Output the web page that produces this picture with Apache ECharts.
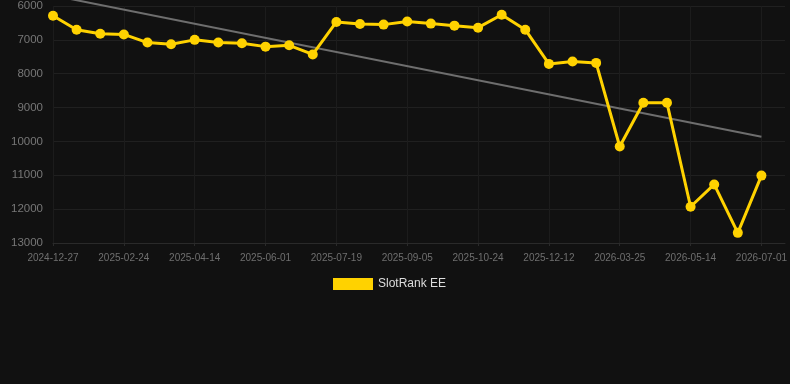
<!DOCTYPE html>
<html>
<head>
<meta charset="utf-8">
<script src="https://cdn.jsdelivr.net/npm/echarts@6/dist/echarts.min.js"></script>
<style>
  html, body { margin: 0; padding: 0; background: #111111; }
  #chart { width: 790px; height: 384px; }
</style>
</head>
<body>
<div id="chart"></div>
<script>
// x categories (last one is an empty slot at the right edge)
const dates = [
  '2024-12-27', '2025-01-16', '2025-02-05', '2025-02-24', '2025-03-12', '2025-03-29',
  '2025-04-14', '2025-04-30', '2025-05-16', '2025-06-01', '2025-06-17', '2025-07-03',
  '2025-07-19', '2025-08-04', '2025-08-20', '2025-09-05', '2025-09-21', '2025-10-08',
  '2025-10-24', '2025-11-09', '2025-11-26', '2025-12-12', '2026-01-15', '2026-02-20',
  '2026-03-25', '2026-04-11', '2026-04-28', '2026-05-14', '2026-05-30', '2026-06-15',
  '2026-07-01', '2026-07-17'
]

// rank values
const rank = [
  6290, 6700, 6820, 6840, 7080, 7130, 7000, 7080, 7100, 7200, 7160, 7430,
  6470, 6530, 6550, 6460, 6520, 6580, 6640, 6260, 6700, 7710, 7640, 7680,
  10150, 8860, 8860, 11930, 11270, 12700, 11010, null
]

// trend line end points (index, value)
const trendStart = [0, 5690]
const trendEnd = [30, 9860]

const trend = dates.map(() => null)
trend[trendStart[0]] = trendStart[1]
trend[trendEnd[0]] = trendEnd[1]

const chart = echarts.init(document.getElementById('chart'))
chart.setOption({
  backgroundColor: '#111111',
  animation: false,
  grid: { left: 53, right: 2, top: 6, bottom: 141 },
  legend: {
    data: ['SlotRank EE'],
    left: 333,
    top: 278,
    padding: 0,
    itemWidth: 40,
    itemHeight: 12,
    itemGap: 10,
    icon: 'rect',
    textStyle: { color: '#dddddd', fontSize: 12, fontFamily: 'Liberation Sans, Arial' }
  },
  xAxis: {
    type: 'category',
    boundaryGap: false,
    data: dates,
    axisLine: { lineStyle: { color: '#2a2a2a' } },
    axisTick: { show: true, interval: 2, length: 3, lineStyle: { color: '#2a2a2a' } },
    axisLabel: {
      interval: 2,
      color: '#6f6f6f',
      fontSize: 10,
      margin: 10,
      fontFamily: 'Liberation Sans, Arial'
    },
    splitLine: { show: true, interval: 2, lineStyle: { color: '#1c1c1c' } }
  },
  yAxis: {
    type: 'value',
    inverse: true,
    min: 6000,
    max: 13000,
    interval: 1000,
    axisLine: { show: false },
    axisTick: { show: false },
    axisLabel: {
      color: '#777777',
      fontSize: 11.5,
      margin: 10,
      fontFamily: 'Liberation Sans, Arial',
      formatter: (v) => String(v)
    },
    splitLine: { lineStyle: { color: '#202020' } }
  },
  series: [
    {
      name: 'Trend',
      type: 'line',
      data: trend,
      connectNulls: true,
      clip: false,
      symbol: 'none',
      silent: true,
      lineStyle: { color: '#6e6e6e', width: 2 },
      z: 1
    },
    {
      name: 'SlotRank EE',
      type: 'line',
      data: rank,
      color: '#ffd200',
      symbol: 'circle',
      symbolSize: 10,
      lineStyle: { color: '#ffd200', width: 3 },
      itemStyle: { color: '#ffd200' },
      z: 2
    }
  ]
})
</script>
</body>
</html>
